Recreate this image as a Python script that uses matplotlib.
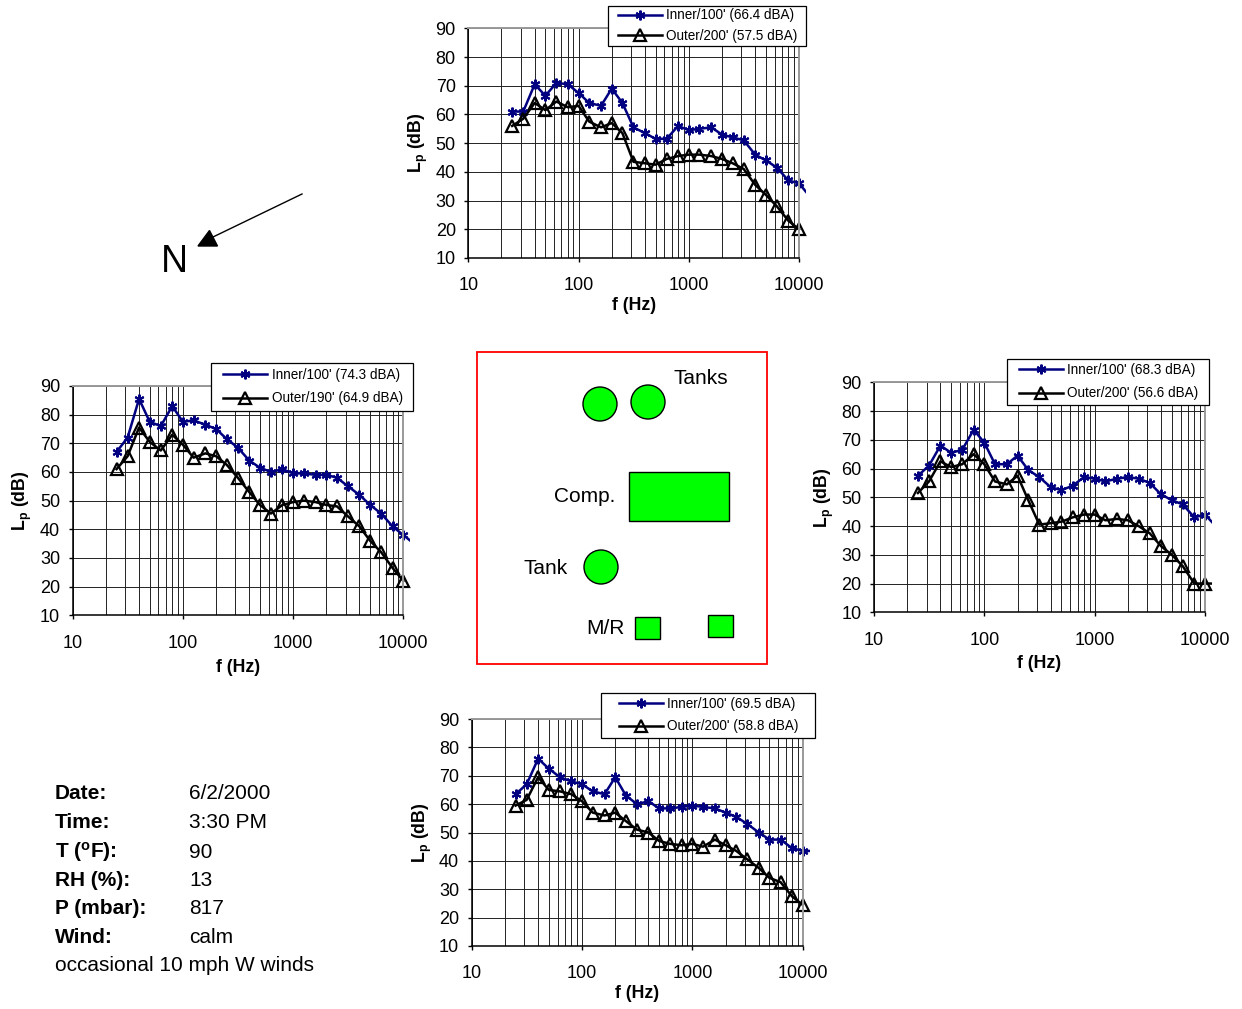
import matplotlib
matplotlib.use("Agg")
import matplotlib.pyplot as plt
from matplotlib.patches import Rectangle, Circle, Polygon
from matplotlib.ticker import FixedLocator, NullFormatter

plt.rcParams['font.family'] = ['Liberation Sans', 'DejaVu Sans']
plt.rcParams['mathtext.fontset'] = 'custom'
plt.rcParams['mathtext.rm'] = 'Liberation Sans'
plt.rcParams['mathtext.bf'] = 'Liberation Sans:bold'

W, H = 1242, 1009

# third octave centre frequencies
freq = [25, 31.5, 40, 50, 63, 80, 100, 125, 160, 200, 250, 315, 400, 500, 630,
        800, 1000, 1250, 1600, 2000, 2500, 3150, 4000, 5000, 6300, 8000, 10000, 12500]

top_inner = [61, 61, 70.5, 66.5, 71, 70.5, 67.5, 64, 63, 69, 64, 55.5, 53.5, 51.5, 51.5,
             56, 54.5, 55, 55.5, 53, 52, 51, 46, 44, 41.5, 37, 36, 31.5]
top_outer = [56, 58.5, 64, 61.5, 64.5, 62.5, 63, 57.5, 55.5, 57, 53.5, 43.5, 43, 42.5, 44.5,
             45.5, 46, 46, 45.5, 44.5, 43, 41, 35.5, 32, 28, 23, 20]

left_inner = [67, 72, 85.5, 77.5, 76, 83, 77.5, 78, 76.5, 75, 71.5, 68.5, 64, 61.5, 60,
              61, 59.5, 59.5, 59, 59, 58, 55, 52, 48.5, 45.5, 41, 38, 35]
left_outer = [61, 65.5, 75.5, 70.5, 67.5, 73, 69.5, 65, 66.5, 65.5, 62.5, 58, 53, 48.5, 45.5,
              48.5, 49.5, 50, 49.5, 48.5, 48, 44.5, 41, 36, 32, 26.5, 22]

right_inner = [57.5, 61, 68, 65.5, 66.5, 73.5, 69, 61.5, 61.5, 64.5, 59.5, 57, 53.5, 52.5, 54,
               57, 56.5, 55.5, 56.5, 57, 56.5, 55, 51, 49, 47.5, 43, 44, 40]
right_outer = [51.5, 55.5, 62.5, 60.5, 61.5, 65, 61.5, 55.5, 54.5, 57.5, 49, 40.5, 41, 41.5, 43,
               44, 44, 42, 42.5, 42, 40, 37.5, 33, 30, 26, 20, 20, 20]

bottom_inner = [63.5, 67, 76, 72.5, 69.5, 68, 67, 64.5, 63.5, 69.5, 63, 60, 61, 58.5, 58.5,
                59, 59.5, 59, 58.5, 57, 55.5, 53, 50, 47.5, 47.5, 44.5, 43.5, 43.5]
bottom_outer = [59.5, 61.5, 69.5, 65, 64.5, 63.5, 61, 57, 56, 57, 54, 51, 50, 47, 46,
                45.5, 46, 45, 47.5, 45.5, 43.5, 40.5, 37.5, 34, 32.5, 27.5, 24.5]

y_ticks = [10, 20, 30, 40, 50, 60, 70, 80, 90]
x_ticks = [10, 100, 1000, 10000]
x_minor = [m * d for d in (10, 100, 1000) for m in range(2, 10)]

info_keys = ['Date:', 'Time:', 'T ($\\mathbf{^{o}}$F):', 'RH (%):', 'P (mbar):', 'Wind:']
info_vals = ['6/2/2000', '3:30 PM', '90', '13', '817', 'calm']
info_y = [799, 828, 857.5, 886, 913.5, 943]

fig = plt.figure(figsize=(W / 100, H / 100), dpi=100)

# whole figure overlay in pixels, for the site sketch
bg = fig.add_axes([0, 0, 1, 1])
bg.set_xlim(0, W)
bg.set_ylim(H, 0)
bg.axis('off')


def chart(x0, x1, y0, y1, inner, outer, lab_in, lab_out, leg_box, row_gap, ylab_x, xlab_y):
    ax = fig.add_axes([x0 / W, 1 - y1 / H, (x1 - x0) / W, (y1 - y0) / H])
    ax.set_xscale('log')
    ax.set_xlim(10, 10000)
    ax.set_ylim(10, 90)
    ax.set_yticks(y_ticks)
    ax.set_xticks(x_ticks)
    ax.set_xticklabels([str(t) for t in x_ticks])
    ax.xaxis.set_minor_locator(FixedLocator(x_minor))
    ax.xaxis.set_minor_formatter(NullFormatter())
    ax.grid(True, which='both', color='#222222', lw=0.7)
    ax.set_axisbelow(True)
    ax.tick_params(axis='y', which='major', labelsize=13, length=3, width=1, pad=6)
    ax.tick_params(axis='x', which='major', labelsize=13, length=3, width=1, pad=11)
    ax.tick_params(axis='x', which='minor', length=0)
    for side in ('top', 'right'):
        ax.spines[side].set_color('#999999')
        ax.spines[side].set_linewidth(1.4)
    for side in ('left', 'bottom'):
        ax.spines[side].set_linewidth(1.1)

    # the 12500 Hz point sits outside the axes, only its line stub shows
    clip = Rectangle((0, 0), 1.021, 1, transform=ax.transAxes)
    l1, = ax.plot(freq[:len(inner)], inner, color='#000080', lw=1.8, marker=(6, 2, 0), ms=7,
                  mew=1.5, markevery=list(range(27)), label=lab_in)
    l2, = ax.plot(freq[:len(outer)], outer, color='black', lw=1.8, marker='^', ms=8.5, mfc='none',
                  mew=1.6, markevery=list(range(27)), label=lab_out)
    l1.set_clip_path(clip)
    l2.set_clip_path(clip)

    fig.text((x0 + x1) / 2 / W, 1 - xlab_y / H, 'f (Hz)', fontsize=12.8, fontweight='bold',
             ha='center', va='center')
    fig.text(ylab_x / W, 1 - (y0 + y1) / 2 / H, '$\\mathbf{L_p}$ (dB)', fontsize=12.8,
             fontweight='bold', rotation=90, ha='center', va='center')

    lx0, ly0, lx1, ly1 = leg_box
    fig.add_artist(Rectangle((lx0 / W, 1 - ly1 / H), (lx1 - lx0) / W, (ly1 - ly0) / H,
                             transform=fig.transFigure, fc='white', ec='black', lw=0.9, zorder=9))
    leg = fig.legend(handles=[l1, l2], loc='center',
                     bbox_to_anchor=((lx0 + lx1 + 2) / 2 / W, 1 - (ly0 + ly1 - 1) / 2 / H),
                     fontsize=9.75, frameon=False, borderpad=0, labelspacing=row_gap / 13.5 - 1,
                     handlelength=3.26, handletextpad=0.3, borderaxespad=0)
    leg.set_zorder(10)
    return ax


chart(468.3, 799, 28.3, 258, top_inner, top_outer,
      "Inner/100' (66.4 dBA)", "Outer/200' (57.5 dBA)", (608, 6, 806, 46), 20, 418, 306)
chart(72.7, 403.3, 386, 615.3, left_inner, left_outer,
      "Inner/100' (74.3 dBA)", "Outer/190' (64.9 dBA)", (211, 363, 413, 411), 23, 22, 668)
chart(874, 1205, 382.3, 612.3, right_inner, right_outer,
      "Inner/100' (68.3 dBA)", "Outer/200' (56.6 dBA)", (1007, 359, 1209, 405), 23, 824, 663)
chart(471.7, 802.7, 719, 946, bottom_inner, bottom_outer,
      "Inner/100' (69.5 dBA)", "Outer/200' (58.8 dBA)", (601, 693, 815, 738), 22, 422, 994)

# north arrow
bg.plot([302, 213], [194, 237], color='black', lw=1)
bg.add_patch(Polygon([[198, 246], [209.5, 230.5], [217.5, 246]], closed=True, color='black'))
bg.text(174, 262, 'N', fontsize=27, ha='center', va='center')

# site sketch
bg.add_patch(Rectangle((477, 352), 290, 312, fc='white', ec='#ff0000', lw=1.3))
for cx, cy in [(600, 404), (648, 402), (601, 567)]:
    bg.add_patch(Circle((cx, cy), 17, fc='#00ff00', ec='black', lw=1))
bg.add_patch(Rectangle((629, 472), 100, 49, fc='#00ff00', ec='black', lw=1))
bg.add_patch(Rectangle((635, 617), 25, 22, fc='#00ff00', ec='black', lw=1))
bg.add_patch(Rectangle((708, 615), 25, 22, fc='#00ff00', ec='black', lw=1))
bg.text(673, 378, 'Tanks', fontsize=15, va='center')
bg.text(554, 497, 'Comp.', fontsize=15, va='center')
bg.text(523, 569, 'Tank', fontsize=15, va='center')
bg.text(586, 628, 'M/R', fontsize=15, va='center')

# measurement conditions
for k, v, y in zip(info_keys, info_vals, info_y):
    bg.text(55, y, k, fontsize=15, fontweight='bold', va='baseline')
    bg.text(189, y, v, fontsize=15, va='baseline')
bg.text(55, 971, 'occasional 10 mph W winds', fontsize=15, va='baseline')

fig.savefig('out.png', dpi=100)
